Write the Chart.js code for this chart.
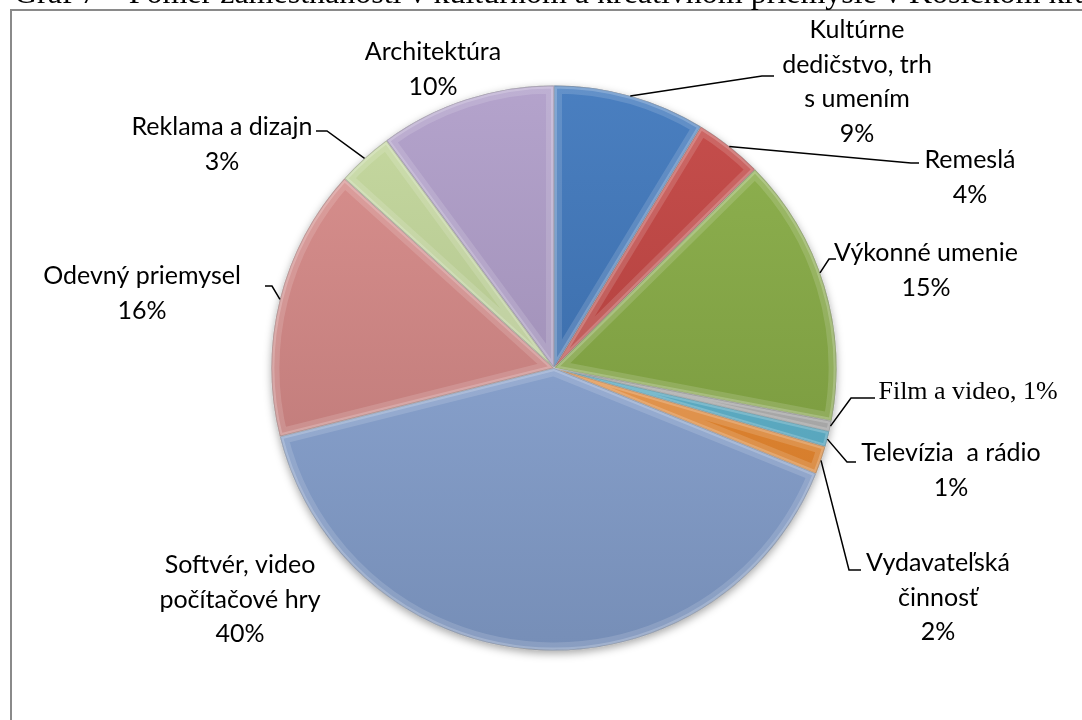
<!DOCTYPE html>
<html>
<head>
<meta charset="utf-8">
<script src="https://cdn.jsdelivr.net/npm/chart.js@4.4.1/dist/chart.umd.min.js"></script>
<style>
html,body{margin:0;padding:0;background:#fff;}
#wrap{width:1082px;height:720px;position:relative;}
</style>
</head>
<body>
<div id="wrap"><canvas id="c" width="1082" height="720"></canvas></div>
<script>
// ---- data ----
const titleText = 'Graf 7 – Pomer zamestnanosti v kultúrnom a kreatívnom priemysle v Košickom kraji';
const categories = ['Kultúrne dedičstvo, trh s umením','Remeslá','Výkonné umenie','Film a video','Televízia  a rádio','Vydavateľská činnosť','Softvér, video počítačové hry','Odevný priemysel','Reklama a dizajn','Architektúra'];
const shares = [8.7, 3.9, 15.4, 0.6, 0.9, 1.6, 40.0, 15.6, 3.2, 10.1];
const labelLines = [['Kultúrne','dedičstvo, trh','s umením'],['Remeslá'],['Výkonné umenie'],['Film a video,'],['Televízia  a rádio'],['Vydavateľská','činnosť'],['Softvér, video','počítačové hry'],['Odevný priemysel'],['Reklama a dizajn'],['Architektúra']];
const colors = ['#3A74BA','#C2403D','#86AC42','#A5A5A5','#3FA7C6','#F08A2C','#8DA9DA','#D88886','#C2D799','#AD9BC8'];

// ---- layout of labels (relative to pie centre) ----
const labelLayout = [
  {x:303, y:-338, inline:false, frac:0.5, leader:[[208,-292],[220,-292]]},
  {x:416, y:-208, inline:false, frac:0.5, leader:[[357,-205],[365,-205]]},
  {x:372, y:-115, inline:false, frac:0.45, leader:[[275,-109],[282,-109]]},
  {x:414, y:24, inline:true, frac:0.5, leader:[[297,30],[321,30]]},
  {x:397, y:85, inline:false, frac:0.5, leader:[[293,94],[302,94]]},
  {x:384, y:195, inline:false, frac:0.5, leader:[[295,202],[307,202]]},
  {x:-314, y:197, inline:false, frac:0.5, leader:null},
  {x:-412, y:-92, inline:false, frac:0.5, leader:[[-282,-82],[-289,-82]]},
  {x:-332, y:-241, inline:false, frac:0.5, leader:[[-227,-237],[-238,-237]]},
  {x:-121, y:-316, inline:false, frac:0.5, leader:null}
];

function shade(hex, f){
  const n = parseInt(hex.slice(1),16);
  let r=(n>>16)&255,g=(n>>8)&255,b=n&255;
  if(f>=0){r+= (255-r)*f; g+=(255-g)*f; b+=(255-b)*f;}
  else {r*=1+f; g*=1+f; b*=1+f;}
  return 'rgb('+Math.round(r)+','+Math.round(g)+','+Math.round(b)+')';
}

const total = shares.reduce((a,b)=>a+b,0);

const decor = {
  id:'decor',
  beforeDraw(chart){
    const ctx = chart.ctx;
    ctx.save();
    ctx.fillStyle='#fff';
    ctx.fillRect(0,0,chart.width,chart.height);
    ctx.strokeStyle='#8a8a8a';
    ctx.lineWidth=2;
    ctx.strokeRect(11,10,1100,760);
    ctx.fillStyle='#000';
    ctx.font='32px "Liberation Serif"';
    ctx.textBaseline='alphabetic';
    ctx.textAlign='left';
    ctx.fillText(titleText, 14, 3);
    ctx.restore();
  },
  beforeDatasetsDraw(chart){
    const a = chart.getDatasetMeta(0).data[0];
    if(!a) return;
    const ctx = chart.ctx;
    ctx.save();
    ctx.shadowColor='rgba(0,0,0,0.35)';
    ctx.shadowBlur=8;
    ctx.shadowOffsetY=3;
    ctx.fillStyle='#888';
    ctx.beginPath();
    ctx.arc(a.x,a.y,a.outerRadius,0,Math.PI*2);
    ctx.fill();
    ctx.restore();
  },
  afterDatasetsDraw(chart){
    const ctx = chart.ctx;
    const meta = chart.getDatasetMeta(0);
    meta.data.forEach((arc)=>{
      const p = arc.getProps(['x','y','startAngle','endAngle','outerRadius']);
      ctx.save();
      ctx.beginPath();
      ctx.moveTo(p.x,p.y);
      ctx.arc(p.x,p.y,p.outerRadius,p.startAngle,p.endAngle);
      ctx.closePath();
      ctx.clip();
      ctx.lineJoin='miter';
      ctx.strokeStyle='rgba(255,255,255,0.14)';
      ctx.lineWidth=16;
      ctx.stroke();
      ctx.strokeStyle='rgba(255,255,255,0.2)';
      ctx.lineWidth=6;
      ctx.stroke();
      ctx.strokeStyle='rgba(0,0,0,0.2)';
      ctx.lineWidth=1.5;
      ctx.stroke();
      ctx.restore();
    });
    // labels
    ctx.save();
    ctx.fillStyle='#000';
    ctx.strokeStyle='#000';
    ctx.lineWidth=1.5;
    ctx.textAlign='center';
    ctx.textBaseline='middle';
    meta.data.forEach((arc,i)=>{
      const p = arc.getProps(['x','y','startAngle','endAngle','outerRadius']);
      const L = labelLayout[i];
      const pct = Math.round(shares[i]/total*100)+'%';
      const ang = p.startAngle + (p.endAngle-p.startAngle)*L.frac;
      if(L.leader){
        ctx.beginPath();
        ctx.moveTo(p.x+Math.cos(ang)*p.outerRadius, p.y+Math.sin(ang)*p.outerRadius);
        L.leader.forEach(pt=>ctx.lineTo(p.x+pt[0], p.y+pt[1]));
        ctx.stroke();
      }
      const lx = p.x+L.x, ly = p.y+L.y;
      if(L.inline){
        ctx.font='26px "Liberation Serif"';
        ctx.fillText(labelLines[i].join(' ')+' '+pct, lx, ly);
      } else {
        ctx.font='25px Lato';
        const lines = labelLines[i].concat([pct]);
        lines.forEach((t,k)=>ctx.fillText(t, lx, ly+k*34.5));
      }
    });
    ctx.restore();
  }
};

new Chart(document.getElementById('c'), {
  type:'pie',
  data:{
    labels:categories,
    datasets:[{
      data:shares,
      backgroundColor:(c)=>{
        const base = colors[c.dataIndex];
        const ca = c.chart.chartArea;
        if(!ca) return base;
        const g = c.chart.ctx.createLinearGradient(0,ca.top,0,ca.bottom);
        g.addColorStop(0, shade(base,0.08));
        g.addColorStop(1, shade(base,-0.16));
        return g;
      },
      borderColor:'rgba(255,255,255,0.3)',
      borderWidth:1
    }]
  },
  options:{
    responsive:false,
    animation:false,
    devicePixelRatio:1,
    layout:{padding:{top:85,bottom:69,left:271,right:245}},
    plugins:{legend:{display:false},tooltip:{enabled:false},title:{display:false}}
  },
  plugins:[decor]
});
</script>
</body>
</html>
